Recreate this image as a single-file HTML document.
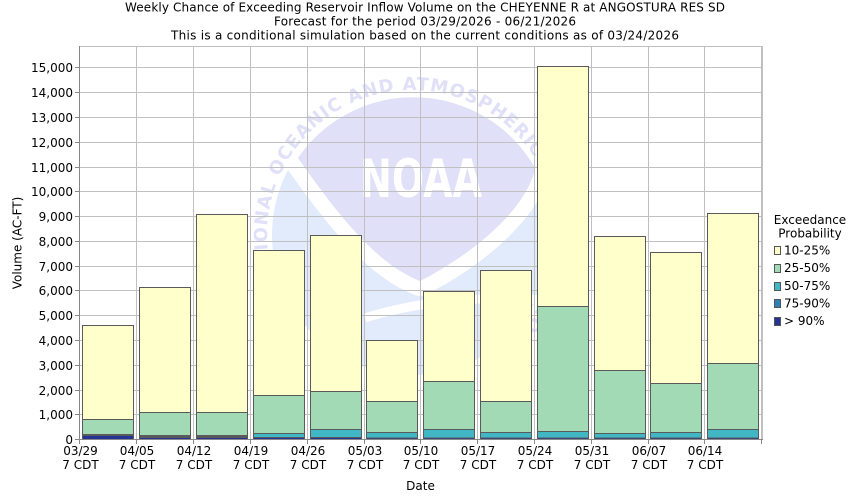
<!DOCTYPE html>
<html>
<head>
<meta charset="utf-8">
<style>
  html, body { margin:0; padding:0; background:#ffffff; }
  svg { display:block; }
  text { font-family: "DejaVu Sans", "Liberation Sans", sans-serif; fill:#000; }
</style>
</head>
<body>
<svg width="850" height="500" viewBox="0 0 850 500" xmlns="http://www.w3.org/2000/svg">
  <rect x="0" y="0" width="850" height="500" fill="#ffffff"/>

  <!-- Title -->
  <text x="425" y="11.7" font-size="12" text-anchor="middle" textLength="600">Weekly Chance of Exceeding Reservoir Inflow Volume on the CHEYENNE R at ANGOSTURA RES SD</text>
  <text x="425" y="25.7" font-size="12" text-anchor="middle" textLength="302">Forecast for the period 03/29/2026 - 06/21/2026</text>
  <text x="425" y="39.4" font-size="12" text-anchor="middle" textLength="508">This is a conditional simulation based on the current conditions as of 03/24/2026</text>

  <defs>
    <clipPath id="plot"><rect x="79" y="47" width="683" height="392"/></clipPath>
    <path id="ring" d="M 286.4 307.5 A 145 145 0 1 1 537.6 307.5 A 145 145 0 0 1 286.4 307.5"/>
  </defs>

  <!-- NOAA watermark -->
  <g clip-path="url(#plot)">
    <circle cx="412" cy="235" r="140" fill="#e2ebfc"/>
    <path d="M 298 158 A 140 140 0 0 1 535 168 C 528 205 480 250 420 281 C 380 265 345 225 298 158 Z"
          fill="#e0e0f8" stroke="#ffffff" stroke-width="30" stroke-linejoin="round" paint-order="stroke"/>
    <path d="M 298 158 A 140 140 0 0 1 535 168 C 528 205 480 250 420 281 C 380 265 345 225 298 158 Z" fill="#e0e0f8"/>
    <path d="M 365 318 C 420 300 490 296 545 300" fill="none" stroke="#ffffff" stroke-width="9"/>
    <text x="360" y="197" font-size="53" font-weight="bold" textLength="122" lengthAdjust="spacingAndGlyphs" style="fill:#ffffff">NOAA</text>
    <text font-size="18" font-weight="bold" style="fill:#e0e0f8" letter-spacing="1">
      <textPath href="#ring" startOffset="18">NATIONAL OCEANIC AND ATMOSPHERIC ADMINISTRATION</textPath>
    </text>
  </g>

  <!-- Grid -->
  <g stroke="#c0c0c0" stroke-width="1" shape-rendering="crispEdges">
    <line x1="79" y1="67.5" x2="761" y2="67.5"/>
    <line x1="79" y1="92.5" x2="761" y2="92.5"/>
    <line x1="79" y1="117.5" x2="761" y2="117.5"/>
    <line x1="79" y1="142.5" x2="761" y2="142.5"/>
    <line x1="79" y1="167.5" x2="761" y2="167.5"/>
    <line x1="79" y1="191.5" x2="761" y2="191.5"/>
    <line x1="79" y1="216.5" x2="761" y2="216.5"/>
    <line x1="79" y1="241.5" x2="761" y2="241.5"/>
    <line x1="79" y1="266.5" x2="761" y2="266.5"/>
    <line x1="79" y1="290.5" x2="761" y2="290.5"/>
    <line x1="79" y1="315.5" x2="761" y2="315.5"/>
    <line x1="79" y1="340.5" x2="761" y2="340.5"/>
    <line x1="79" y1="365.5" x2="761" y2="365.5"/>
    <line x1="79" y1="390.5" x2="761" y2="390.5"/>
    <line x1="79" y1="414.5" x2="761" y2="414.5"/>
    <line x1="136.5" y1="47" x2="136.5" y2="439"/>
    <line x1="193.5" y1="47" x2="193.5" y2="439"/>
    <line x1="250.5" y1="47" x2="250.5" y2="439"/>
    <line x1="307.5" y1="47" x2="307.5" y2="439"/>
    <line x1="364.5" y1="47" x2="364.5" y2="439"/>
    <line x1="420.5" y1="47" x2="420.5" y2="439"/>
    <line x1="477.5" y1="47" x2="477.5" y2="439"/>
    <line x1="534.5" y1="47" x2="534.5" y2="439"/>
    <line x1="591.5" y1="47" x2="591.5" y2="439"/>
    <line x1="648.5" y1="47" x2="648.5" y2="439"/>
    <line x1="704.5" y1="47" x2="704.5" y2="439"/>
    <line x1="79" y1="46.5" x2="762" y2="46.5"/>
  </g>
  <rect x="761" y="46" width="2" height="394" fill="#c0c0c0"/>
  <g stroke="#c0c0c0" shape-rendering="crispEdges">
    <line x1="757" y1="67.5" x2="761" y2="67.5"/><line x1="757" y1="92.5" x2="761" y2="92.5"/>
    <line x1="757" y1="117.5" x2="761" y2="117.5"/><line x1="757" y1="142.5" x2="761" y2="142.5"/>
    <line x1="757" y1="167.5" x2="761" y2="167.5"/><line x1="757" y1="191.5" x2="761" y2="191.5"/>
    <line x1="757" y1="216.5" x2="761" y2="216.5"/><line x1="757" y1="241.5" x2="761" y2="241.5"/>
    <line x1="757" y1="266.5" x2="761" y2="266.5"/><line x1="757" y1="290.5" x2="761" y2="290.5"/>
    <line x1="757" y1="315.5" x2="761" y2="315.5"/><line x1="757" y1="340.5" x2="761" y2="340.5"/>
    <line x1="757" y1="365.5" x2="761" y2="365.5"/><line x1="757" y1="390.5" x2="761" y2="390.5"/>
    <line x1="757" y1="414.5" x2="761" y2="414.5"/>
  </g>

  <!-- Bars -->
  <g stroke="#5a5a5a" stroke-width="1" shape-rendering="crispEdges">
    <rect x="82.5" y="325.5" width="51" height="114" fill="#ffffcc"/>
    <rect x="82.5" y="419.5" width="51" height="20" fill="#a1dab4"/>
    <rect x="82.5" y="434.5" width="51" height="5" fill="#41b6c4"/>
    <rect x="82.5" y="435.5" width="51" height="4" fill="#253494"/>

    <rect x="139.5" y="287.5" width="51" height="152" fill="#ffffcc"/>
    <rect x="139.5" y="412.5" width="51" height="27" fill="#a1dab4"/>
    <rect x="139.5" y="435.5" width="51" height="4" fill="#41b6c4"/>
    <rect x="139.5" y="436.5" width="51" height="3" fill="#2c7fb8"/>
    <rect x="139.5" y="437.5" width="51" height="2" fill="#253494"/>

    <rect x="196.5" y="214.5" width="51" height="225" fill="#ffffcc"/>
    <rect x="196.5" y="412.5" width="51" height="27" fill="#a1dab4"/>
    <rect x="196.5" y="435.5" width="51" height="4" fill="#41b6c4"/>
    <rect x="196.5" y="436.5" width="51" height="3" fill="#2c7fb8"/>
    <rect x="196.5" y="437.5" width="51" height="2" fill="#253494"/>

    <rect x="253.5" y="250.5" width="51" height="189" fill="#ffffcc"/>
    <rect x="253.5" y="395.5" width="51" height="44" fill="#a1dab4"/>
    <rect x="253.5" y="433.5" width="51" height="6" fill="#41b6c4"/>
    <rect x="253.5" y="437.5" width="51" height="2" fill="#253494"/>

    <rect x="310.5" y="235.5" width="51" height="204" fill="#ffffcc"/>
    <rect x="310.5" y="391.5" width="51" height="48" fill="#a1dab4"/>
    <rect x="310.5" y="429.5" width="51" height="10" fill="#41b6c4"/>
    <rect x="310.5" y="437.5" width="51" height="2" fill="#253494"/>

    <rect x="366.5" y="340.5" width="51" height="99" fill="#ffffcc"/>
    <rect x="366.5" y="401.5" width="51" height="38" fill="#a1dab4"/>
    <rect x="366.5" y="432.5" width="51" height="7" fill="#41b6c4"/>
    <rect x="366.5" y="438" width="51" height="1.5" fill="#253494"/>

    <rect x="423.5" y="291.5" width="51" height="148" fill="#ffffcc"/>
    <rect x="423.5" y="381.5" width="51" height="58" fill="#a1dab4"/>
    <rect x="423.5" y="429.5" width="51" height="10" fill="#41b6c4"/>
    <rect x="423.5" y="438" width="51" height="1.5" fill="#253494"/>

    <rect x="480.5" y="270.5" width="51" height="169" fill="#ffffcc"/>
    <rect x="480.5" y="401.5" width="51" height="38" fill="#a1dab4"/>
    <rect x="480.5" y="432.5" width="51" height="7" fill="#41b6c4"/>
    <rect x="480.5" y="438" width="51" height="1.5" fill="#253494"/>

    <rect x="537.5" y="66.5" width="51" height="373" fill="#ffffcc"/>
    <rect x="537.5" y="306.5" width="51" height="133" fill="#a1dab4"/>
    <rect x="537.5" y="431.5" width="51" height="8" fill="#41b6c4"/>
    <rect x="537.5" y="438" width="51" height="1.5" fill="#253494"/>

    <rect x="594.5" y="236.5" width="51" height="203" fill="#ffffcc"/>
    <rect x="594.5" y="370.5" width="51" height="69" fill="#a1dab4"/>
    <rect x="594.5" y="433.5" width="51" height="6" fill="#41b6c4"/>
    <rect x="594.5" y="438" width="51" height="1.5" fill="#253494"/>

    <rect x="650.5" y="252.5" width="51" height="187" fill="#ffffcc"/>
    <rect x="650.5" y="383.5" width="51" height="56" fill="#a1dab4"/>
    <rect x="650.5" y="432.5" width="51" height="7" fill="#41b6c4"/>
    <rect x="650.5" y="438" width="51" height="1.5" fill="#253494"/>

    <rect x="707.5" y="213.5" width="51" height="226" fill="#ffffcc"/>
    <rect x="707.5" y="363.5" width="51" height="76" fill="#a1dab4"/>
    <rect x="707.5" y="429.5" width="51" height="10" fill="#41b6c4"/>
    <rect x="707.5" y="438" width="51" height="1.5" fill="#253494"/>
  </g>

  <!-- Axes -->
  <g stroke="#888888" stroke-width="1" shape-rendering="crispEdges">
    <line x1="79.5" y1="46" x2="79.5" y2="440"/>
    <line x1="79" y1="439.5" x2="763" y2="439.5"/>
    <line x1="75" y1="67.5" x2="79" y2="67.5"/><line x1="75" y1="92.5" x2="79" y2="92.5"/>
    <line x1="75" y1="117.5" x2="79" y2="117.5"/><line x1="75" y1="142.5" x2="79" y2="142.5"/>
    <line x1="75" y1="167.5" x2="79" y2="167.5"/><line x1="75" y1="191.5" x2="79" y2="191.5"/>
    <line x1="75" y1="216.5" x2="79" y2="216.5"/><line x1="75" y1="241.5" x2="79" y2="241.5"/>
    <line x1="75" y1="266.5" x2="79" y2="266.5"/><line x1="75" y1="290.5" x2="79" y2="290.5"/>
    <line x1="75" y1="315.5" x2="79" y2="315.5"/><line x1="75" y1="340.5" x2="79" y2="340.5"/>
    <line x1="75" y1="365.5" x2="79" y2="365.5"/><line x1="75" y1="390.5" x2="79" y2="390.5"/>
    <line x1="75" y1="414.5" x2="79" y2="414.5"/><line x1="75" y1="439.5" x2="79" y2="439.5"/>
    <line x1="79.5" y1="439" x2="79.5" y2="444"/>
    <line x1="136.5" y1="439" x2="136.5" y2="444"/>
    <line x1="193.5" y1="439" x2="193.5" y2="444"/>
    <line x1="250.5" y1="439" x2="250.5" y2="444"/>
    <line x1="307.5" y1="439" x2="307.5" y2="444"/>
    <line x1="364.5" y1="439" x2="364.5" y2="444"/>
    <line x1="420.5" y1="439" x2="420.5" y2="444"/>
    <line x1="477.5" y1="439" x2="477.5" y2="444"/>
    <line x1="534.5" y1="439" x2="534.5" y2="444"/>
    <line x1="591.5" y1="439" x2="591.5" y2="444"/>
    <line x1="648.5" y1="439" x2="648.5" y2="444"/>
    <line x1="704.5" y1="439" x2="704.5" y2="444"/>
    <line x1="761.5" y1="439" x2="761.5" y2="444"/>
  </g>

  <!-- Y tick labels -->
  <g font-size="12" text-anchor="end">
    <text x="73" y="72">15,000</text>
    <text x="73" y="97">14,000</text>
    <text x="73" y="122">13,000</text>
    <text x="73" y="147">12,000</text>
    <text x="73" y="172">11,000</text>
    <text x="73" y="196">10,000</text>
    <text x="73" y="221">9,000</text>
    <text x="73" y="246">8,000</text>
    <text x="73" y="271">7,000</text>
    <text x="73" y="295">6,000</text>
    <text x="73" y="320">5,000</text>
    <text x="73" y="345">4,000</text>
    <text x="73" y="370">3,000</text>
    <text x="73" y="395">2,000</text>
    <text x="73" y="419">1,000</text>
    <text x="73" y="444">0</text>
  </g>

  <!-- X tick labels -->
  <g font-size="12" text-anchor="middle">
    <text x="80.5" y="455">03/29</text><text x="80.5" y="469">7 CDT</text>
    <text x="137" y="455">04/05</text><text x="137" y="469">7 CDT</text>
    <text x="194" y="455">04/12</text><text x="194" y="469">7 CDT</text>
    <text x="251" y="455">04/19</text><text x="251" y="469">7 CDT</text>
    <text x="308" y="455">04/26</text><text x="308" y="469">7 CDT</text>
    <text x="365" y="455">05/03</text><text x="365" y="469">7 CDT</text>
    <text x="421" y="455">05/10</text><text x="421" y="469">7 CDT</text>
    <text x="478" y="455">05/17</text><text x="478" y="469">7 CDT</text>
    <text x="535" y="455">05/24</text><text x="535" y="469">7 CDT</text>
    <text x="592" y="455">05/31</text><text x="592" y="469">7 CDT</text>
    <text x="649" y="455">06/07</text><text x="649" y="469">7 CDT</text>
    <text x="705" y="455">06/14</text><text x="705" y="469">7 CDT</text>
  </g>

  <!-- Axis titles -->
  <text x="420.5" y="490" font-size="12" text-anchor="middle">Date</text>
  <text transform="translate(21.5,243) rotate(-90)" x="0" y="0" font-size="12" text-anchor="middle">Volume (AC-FT)</text>

  <!-- Legend -->
  <text x="810" y="224" font-size="12" text-anchor="middle">Exceedance</text>
  <text x="810" y="237.5" font-size="12" text-anchor="middle">Probability</text>
  <g stroke="#555555" stroke-width="1" shape-rendering="crispEdges">
    <rect x="774.5" y="246.5" width="6" height="8" fill="#ffffcc"/>
    <rect x="774.5" y="264.5" width="6" height="8" fill="#a1dab4"/>
    <rect x="774.5" y="282.5" width="6" height="8" fill="#41b6c4"/>
    <rect x="774.5" y="299.5" width="6" height="8" fill="#2c7fb8"/>
    <rect x="774.5" y="317.5" width="6" height="8" fill="#253494"/>
  </g>
  <g font-size="12">
    <text x="784" y="254.5">10-25%</text>
    <text x="784" y="272.2">25-50%</text>
    <text x="784" y="290">50-75%</text>
    <text x="784" y="307.5">75-90%</text>
    <text x="784" y="325.2">&gt; 90%</text>
  </g>
</svg>
</body>
</html>
